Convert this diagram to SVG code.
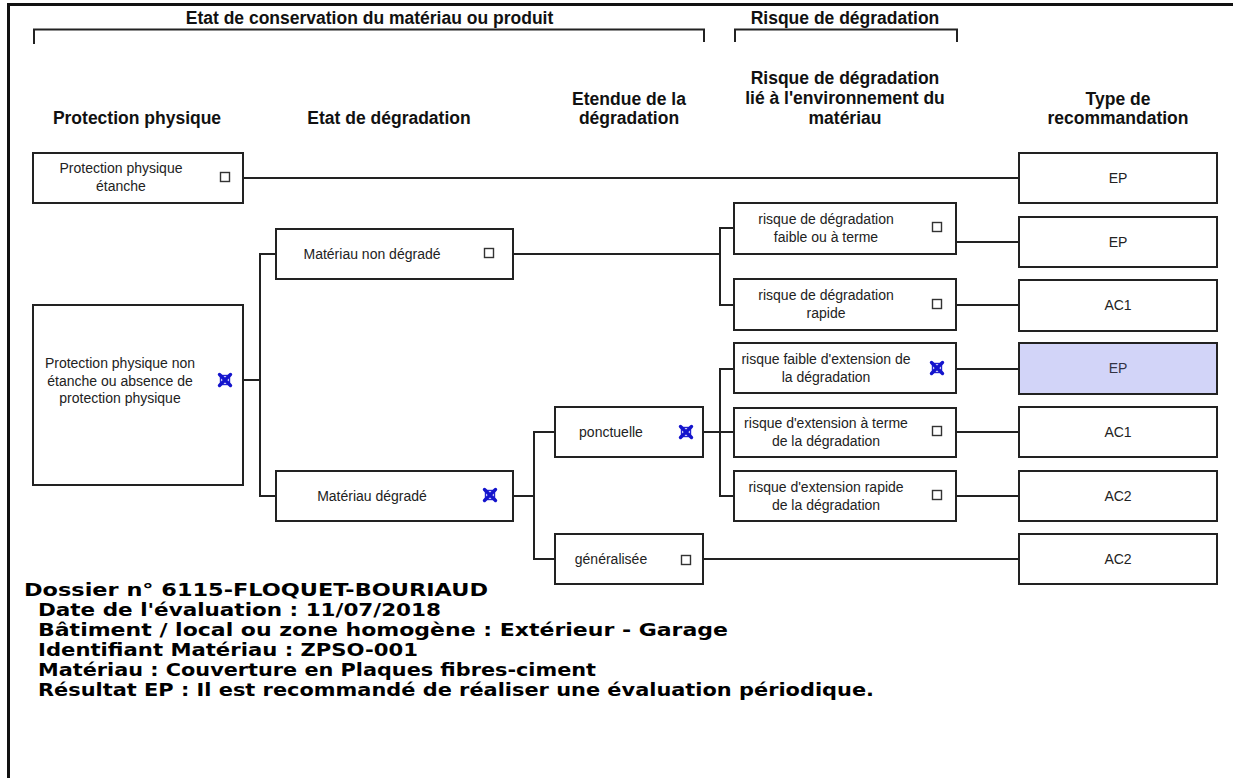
<svg xmlns="http://www.w3.org/2000/svg" width="1236" height="778" viewBox="0 0 1236 778">
<defs>
<style>
.hd{font-family:"Liberation Sans",Arial,sans-serif;font-weight:bold;font-size:17.5px;fill:#111;text-anchor:middle}
.bx{fill:#fff;stroke:#222;stroke-width:2}
.t{font-family:"Liberation Sans",Arial,sans-serif;font-size:14px;fill:#222;text-anchor:middle}
.cb{fill:#fff;stroke:#333;stroke-width:1.4}
.ln{fill:none;stroke:#222;stroke-width:2}
.ft{font-family:"DejaVu Sans",Verdana,sans-serif;font-weight:bold;font-size:17px;fill:#000}
</style>
<g id="chk"><rect class="cb" x="-4.5" y="-4.5" width="9" height="9"/></g>
<g id="xk"><rect x="-4.5" y="-4.5" width="9" height="9" fill="none" stroke="#2424d4" stroke-width="1.4"/><path d="M-5.5,-5.5 L5.5,5.5 M5.5,-5.5 L-5.5,5.5" stroke="#1414cc" stroke-width="3.4" stroke-linecap="round"/></g>
</defs>
<rect width="1236" height="778" fill="#fff"/>
<g id="frame" fill="none" stroke="#111" stroke-width="3">
<path d="M8.5,778 V4.5 H1233"/>
</g>
<g id="headers">
<text class="hd" x="369.5" y="24">Etat de conservation du matériau ou produit</text>
<text class="hd" x="845" y="24">Risque de dégradation</text>
<path class="ln" d="M34,44 V29.5 H704 V42 M735,42 V29.5 H957 V42" stroke="#333"/>
<text class="hd" x="137" y="124">Protection physique</text>
<text class="hd" x="389" y="124">Etat de dégradation</text>
<text class="hd" x="629" y="105">Etendue de la</text>
<text class="hd" x="629" y="124">dégradation</text>
<text class="hd" x="845" y="84">Risque de dégradation</text>
<text class="hd" x="845" y="104">lié à l'environnement du</text>
<text class="hd" x="845" y="124">matériau</text>
<text class="hd" x="1118" y="105">Type de</text>
<text class="hd" x="1118" y="124">recommandation</text>
</g>
<g id="connectors" class="ln">
<path d="M243,178 H1019"/>
<path d="M243,380 H260 M276,254 H260 V496 H276"/>
<path d="M513,254 H720 M734,228 H720 V305 H734"/>
<path d="M513,496 H534 M555,432 H534 V559 H555"/>
<path d="M703,432 H734 M734,369 H720 V496 H734"/>
<path d="M703,559 H1019"/>
<path d="M956,242 H1019 M956,305 H1019 M956,369 H1019 M956,432 H1019 M956,496 H1019"/>
</g>
<g id="n-pp-etanche">
<rect class="bx" x="33" y="153" width="210" height="50"/>
<text class="t" x="121" y="173">Protection physique</text>
<text class="t" x="121" y="191">étanche</text>
<use href="#chk" x="225" y="177"/>
</g>
<g id="n-pp-non-etanche">
<rect class="bx" x="33" y="305" width="210" height="180"/>
<text class="t" x="120" y="368">Protection physique non</text>
<text class="t" x="120" y="386">étanche ou absence de</text>
<text class="t" x="120" y="403">protection physique</text>
<use href="#xk" x="225" y="380"/>
</g>
<g id="n-non-degrade">
<rect class="bx" x="276" y="229" width="237" height="50"/>
<text class="t" x="372" y="259">Matériau non dégradé</text>
<use href="#chk" x="489" y="253"/>
</g>
<g id="n-degrade">
<rect class="bx" x="276" y="471" width="237" height="50"/>
<text class="t" x="372" y="501">Matériau dégradé</text>
<use href="#xk" x="490" y="495"/>
</g>
<g id="n-ponctuelle">
<rect class="bx" x="555" y="407" width="148" height="50"/>
<text class="t" x="611" y="437">ponctuelle</text>
<use href="#xk" x="686" y="432"/>
</g>
<g id="n-generalisee">
<rect class="bx" x="555" y="534" width="148" height="50"/>
<text class="t" x="611" y="564">généralisée</text>
<use href="#chk" x="686" y="560"/>
</g>
<g id="n-r1">
<rect class="bx" x="734" y="203" width="222" height="51"/>
<text class="t" x="826" y="224">risque de dégradation</text>
<text class="t" x="826" y="242">faible ou à terme</text>
<use href="#chk" x="937" y="227"/>
</g>
<g id="n-r2">
<rect class="bx" x="734" y="279" width="222" height="51"/>
<text class="t" x="826" y="300">risque de dégradation</text>
<text class="t" x="826" y="318">rapide</text>
<use href="#chk" x="937" y="304"/>
</g>
<g id="n-r3">
<rect class="bx" x="734" y="343" width="222" height="50"/>
<text class="t" x="826" y="364">risque faible d'extension de</text>
<text class="t" x="826" y="382">la dégradation</text>
<use href="#xk" x="937" y="368"/>
</g>
<g id="n-r4">
<rect class="bx" x="734" y="408" width="222" height="49"/>
<text class="t" x="826" y="428">risque d'extension à terme</text>
<text class="t" x="826" y="446">de la dégradation</text>
<use href="#chk" x="937" y="431"/>
</g>
<g id="n-r5">
<rect class="bx" x="734" y="471" width="222" height="50"/>
<text class="t" x="826" y="492">risque d'extension rapide</text>
<text class="t" x="826" y="510">de la dégradation</text>
<use href="#chk" x="937" y="495"/>
</g>
<g id="n-t1"><rect class="bx" x="1019" y="153" width="198" height="50"/><text class="t" x="1118" y="183">EP</text></g>
<g id="n-t2"><rect class="bx" x="1019" y="217" width="198" height="50"/><text class="t" x="1118" y="247">EP</text></g>
<g id="n-t3"><rect class="bx" x="1019" y="280" width="198" height="51"/><text class="t" x="1118" y="310">AC1</text></g>
<g id="n-t4"><rect class="bx" x="1019" y="343" width="198" height="51" style="fill:#d2d4f8"/><text class="t" x="1118" y="373" style="fill:#334">EP</text></g>
<g id="n-t5"><rect class="bx" x="1019" y="407" width="198" height="50"/><text class="t" x="1118" y="437">AC1</text></g>
<g id="n-t6"><rect class="bx" x="1019" y="471" width="198" height="50"/><text class="t" x="1118" y="501">AC2</text></g>
<g id="n-t7"><rect class="bx" x="1019" y="534" width="198" height="50"/><text class="t" x="1118" y="564">AC2</text></g>
<g id="footer">
<text class="ft" x="24" y="596" textLength="464" lengthAdjust="spacingAndGlyphs">Dossier n° 6115-FLOQUET-BOURIAUD</text>
<text class="ft" x="38" y="616" textLength="403" lengthAdjust="spacingAndGlyphs">Date de l'évaluation : 11/07/2018</text>
<text class="ft" x="38" y="636" textLength="690" lengthAdjust="spacingAndGlyphs">Bâtiment / local ou zone homogène : Extérieur - Garage</text>
<text class="ft" x="38" y="656" textLength="380" lengthAdjust="spacingAndGlyphs">Identifiant Matériau : ZPSO-001</text>
<text class="ft" x="38" y="676" textLength="558" lengthAdjust="spacingAndGlyphs">Matériau : Couverture en Plaques fibres-ciment</text>
<text class="ft" x="38" y="696" textLength="836" lengthAdjust="spacingAndGlyphs">Résultat EP : Il est recommandé de réaliser une évaluation périodique.</text>
</g>
</svg>
